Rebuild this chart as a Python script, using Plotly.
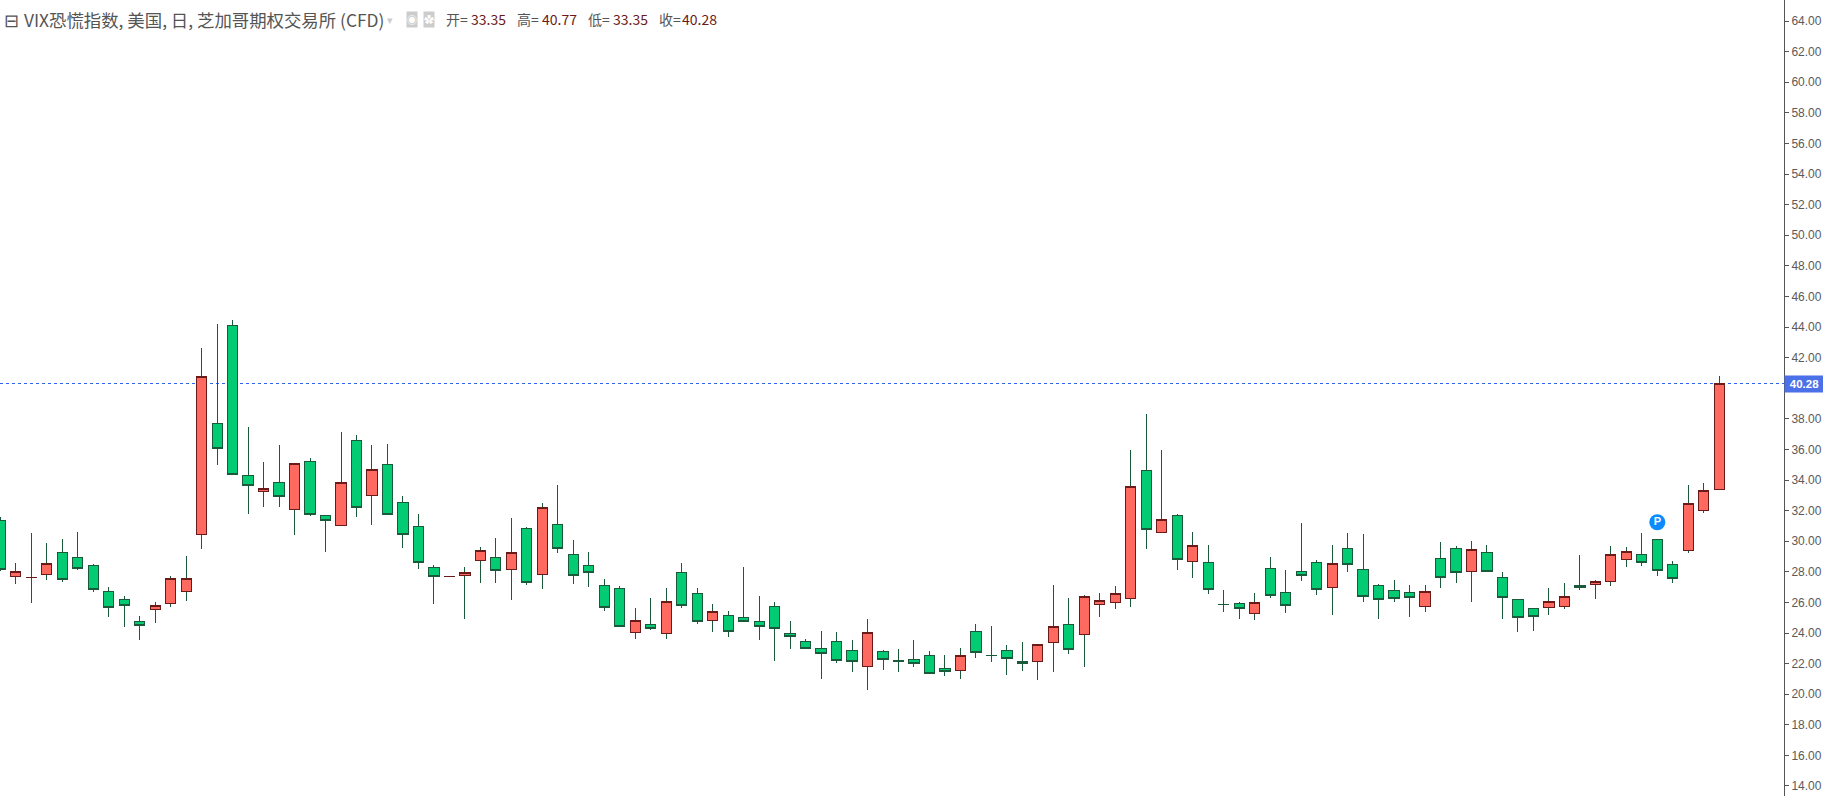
import plotly.graph_objects as go

# Values (index order, left to right)
opens = [31.36,27.70,27.63,27.84,29.27,28.95,28.42,26.72,26.20,24.76,25.55,25.94,26.72,30.45,37.70,44.11,34.30,33.26,33.85,32.08,35.22,31.69,31.04,36.59,33.00,35.02,32.54,30.97,28.29,27.69,
27.77,28.75,28.94,28.16,30.84,27.83,31.10,29.14,28.42,27.11,26.92,24.04,24.57,23.98,27.96,26.59,24.83,25.15,25.02,24.76,25.74,23.98,23.45,23.00,23.45,22.87,21.82,22.80,
22.22,22.28,22.54,21.69,21.56,24.11,22.54,22.87,22.15,22.15,23.39,24.57,23.91,25.88,26.01,26.27,34.63,30.58,31.69,28.69,28.62,25.88,25.94,25.29,28.23,26.66,28.03,28.62,
26.96,29.53,28.16,27.11,26.79,26.66,25.74,28.88,29.53,28.03,29.27,27.64,26.20,25.61,25.68,25.74,27.11,27.18,27.38,28.82,29.14,30.12,28.49,29.40,32.02,33.35]
closes = [28.16,28.03,27.64,28.55,27.51,28.23,26.85,25.68,25.81,24.50,25.81,27.57,27.57,40.78,36.07,34.37,33.65,33.46,32.93,35.09,31.76,31.36,33.85,32.21,34.70,31.76,30.45,28.62,27.70,27.70,
27.96,29.40,28.09,29.27,27.31,32.21,29.53,27.77,27.96,25.68,24.44,24.83,24.31,26.07,25.81,24.76,25.41,24.11,24.76,24.44,24.31,23.78,23.00,22.67,22.21,22.15,24.04,22.27,
22.15,22.02,21.37,21.50,22.54,22.74,22.53,22.35,22.02,23.26,24.44,22.93,26.40,26.14,26.59,33.59,30.78,31.43,28.82,29.73,26.86,25.87,25.61,26.01,26.46,25.81,27.77,26.86,
28.55,28.49,26.39,26.20,26.26,26.33,26.72,27.64,27.96,29.47,28.03,26.33,25.02,25.09,26.07,26.39,26.98,27.38,29.14,29.34,28.62,28.09,27.57,32.48,33.33,40.28]
highs = [31.58,28.58,30.54,29.88,30.14,30.60,28.51,27.01,26.42,25.11,26.03,27.72,29.03,42.63,44.20,44.46,37.46,35.18,36.29,35.09,35.44,31.69,37.14,36.94,36.29,36.35,32.95,31.78,28.45,27.70,
28.31,29.62,30.21,31.51,30.93,32.50,33.67,30.08,29.29,27.53,27.07,25.63,26.29,26.94,28.57,26.94,25.89,25.44,28.31,26.42,26.03,24.78,23.58,24.13,24.06,23.54,24.91,22.89,
22.96,23.54,22.83,22.56,23.02,24.59,24.46,23.22,23.41,23.26,27.14,26.29,26.49,26.62,27.07,35.96,38.31,35.96,31.78,30.60,29.75,26.81,26.03,26.62,28.97,28.12,31.19,28.77,
29.75,30.53,30.47,27.20,27.46,27.13,27.13,29.95,29.68,30.01,29.75,27.98,26.20,25.61,26.94,27.27,29.10,27.46,29.68,29.62,30.53,30.12,28.71,33.67,33.80,40.77]
lows = [28.07,27.23,25.98,27.49,27.36,28.14,26.70,25.07,24.41,23.56,24.68,25.72,26.11,29.51,35.00,34.37,31.80,32.26,32.26,30.43,31.67,29.32,31.04,31.61,31.08,31.76,29.58,28.21,25.92,27.69,
24.94,27.29,27.29,26.18,27.16,26.90,29.25,27.22,27.03,25.46,24.44,23.63,24.17,23.63,25.61,24.61,24.09,23.76,24.69,23.56,22.19,22.98,22.93,21.01,22.06,21.47,20.29,21.60,
21.47,21.80,21.37,21.21,21.02,22.39,22.13,21.28,21.54,20.95,21.47,22.65,21.80,25.07,25.59,25.72,29.51,30.58,28.14,27.62,26.57,25.40,24.94,24.87,26.31,25.33,27.42,26.51,
25.20,28.01,26.05,24.93,26.05,25.06,25.39,26.96,27.29,26.05,28.03,24.93,24.09,24.15,25.20,25.59,26.83,26.24,27.09,28.33,28.40,27.74,27.29,29.25,31.86,33.35]
indices = list(range(len(opens)))
body_tops = [max(o, c) for o, c in zip(opens, closes)]
body_bottoms = [min(o, c) for o, c in zip(opens, closes)]

# 40.00 sits under the last-price tag in the reference, so it has no label
y_ticks = [14 + 2 * k for k in range(26) if 14 + 2 * k != 40]
y_tick_labels = [f"{v:.2f}" for v in y_ticks]
last_price = 40.28
pin_index = [107]
pin_value = [31.24]
pin_text = ["P"]

GREEN, RED, DGREEN, DRED = "#03cb73", "#ff6a60", "#1a5a3a", "#6b1a1a"
CJK = "Noto Sans CJK SC"
PLOT_W = 1784

fig = go.Figure()
# wicks: all dark green, as in the reference
fig.add_trace(go.Candlestick(
    x=indices, open=opens, high=highs, low=lows, close=closes,
    increasing=dict(line=dict(color=DGREEN, width=1), fillcolor=DGREEN),
    decreasing=dict(line=dict(color=DGREEN, width=1), fillcolor=DGREEN),
    hoverinfo="skip", showlegend=False))
# bodies on top
fig.add_trace(go.Candlestick(
    x=indices, open=opens, high=body_tops, low=body_bottoms, close=closes,
    increasing=dict(line=dict(color=DRED, width=1), fillcolor=RED),
    decreasing=dict(line=dict(color=DGREEN, width=1), fillcolor=GREEN),
    hoverinfo="skip", showlegend=False))
fig.add_trace(go.Scatter(
    x=pin_index, y=pin_value, mode="markers+text", text=pin_text,
    marker=dict(size=16, color="#0a8cff", line=dict(width=0)),
    textposition="middle center",
    textfont=dict(family="Liberation Sans", size=11, color="white", weight="bold"),
    hoverinfo="skip", showlegend=False))

fig.add_shape(type="line", xref="paper", x0=0, x1=1, yref="y", y0=last_price, y1=last_price,
              line=dict(color="#2f62ee", width=1, dash="dot"), layer="below")


def head(px, text, color="#555555", size=17.4, yc=19.0, **kw):
    fig.add_annotation(xref="paper", yref="paper", x=px / PLOT_W, y=1 - yc / 796,
                       xanchor="left", yanchor="middle", text=text, showarrow=False,
                       font=dict(family=CJK, size=size, color=color), borderpad=0, **kw)


head(3, "⊟", size=18)
head(23, "VIX恐慌指数, 美国, 日, 芝加哥期权交易所 (CFD)")
head(386, "▾", color="#cccccc", size=11)
head(406, "◉", color="#ffffff", size=10, bgcolor="#cccccc")
head(423, "✿", color="#ffffff", size=10, bgcolor="#cccccc")
DARK = "#6b1a1a"
for px, label in [(445, "开="), (516, "高="), (587, "低="), (658, "收=")]:
    head(px, label, size=14)
for px, label in [(470, "33.35"), (541, "40.77"), (612, "33.35"), (681, "40.28")]:
    head(px, label, color=DARK, size=14)

# last-price tag on the axis
fig.add_annotation(xref="paper", yref="y", x=1, y=last_price, xanchor="left", yanchor="middle",
                   text=f"<b>{last_price:.2f}</b>", showarrow=False, width=39, height=16,
                   bgcolor="#4c70e8", align="center",
                   font=dict(family="Liberation Sans", size=11.5, color="white"), borderpad=0)

fig.update_layout(
    width=1823, height=796, autosize=False,
    margin=dict(l=0, r=39, t=0, b=0),
    paper_bgcolor="white", plot_bgcolor="white",
    boxgap=0.34, boxgroupgap=0, boxmode="overlay",
    showlegend=False,
    xaxis=dict(range=[-0.02, 115.18], visible=False, rangeslider=dict(visible=False), showgrid=False),
    yaxis=dict(range=[13.346, 65.373], side="right", tickvals=y_ticks, ticktext=y_tick_labels,
               showgrid=False, zeroline=False, showline=True, linecolor="#555555", linewidth=1,
               ticks="outside", ticklen=4, tickcolor="#555555", tickwidth=1,
               tickfont=dict(family="Liberation Sans", size=12, color="#5a5a5a")),
)

fig.write_html(
    "out.html",
    config={"displayModeBar": False},
    post_script=(
        "document.body.style.margin='0';document.body.style.overflow='hidden';"
        "document.querySelectorAll('.boxlayer path, .shapelayer path').forEach("
        "function(p){p.style.shapeRendering='crispEdges';});"
    ),
)
